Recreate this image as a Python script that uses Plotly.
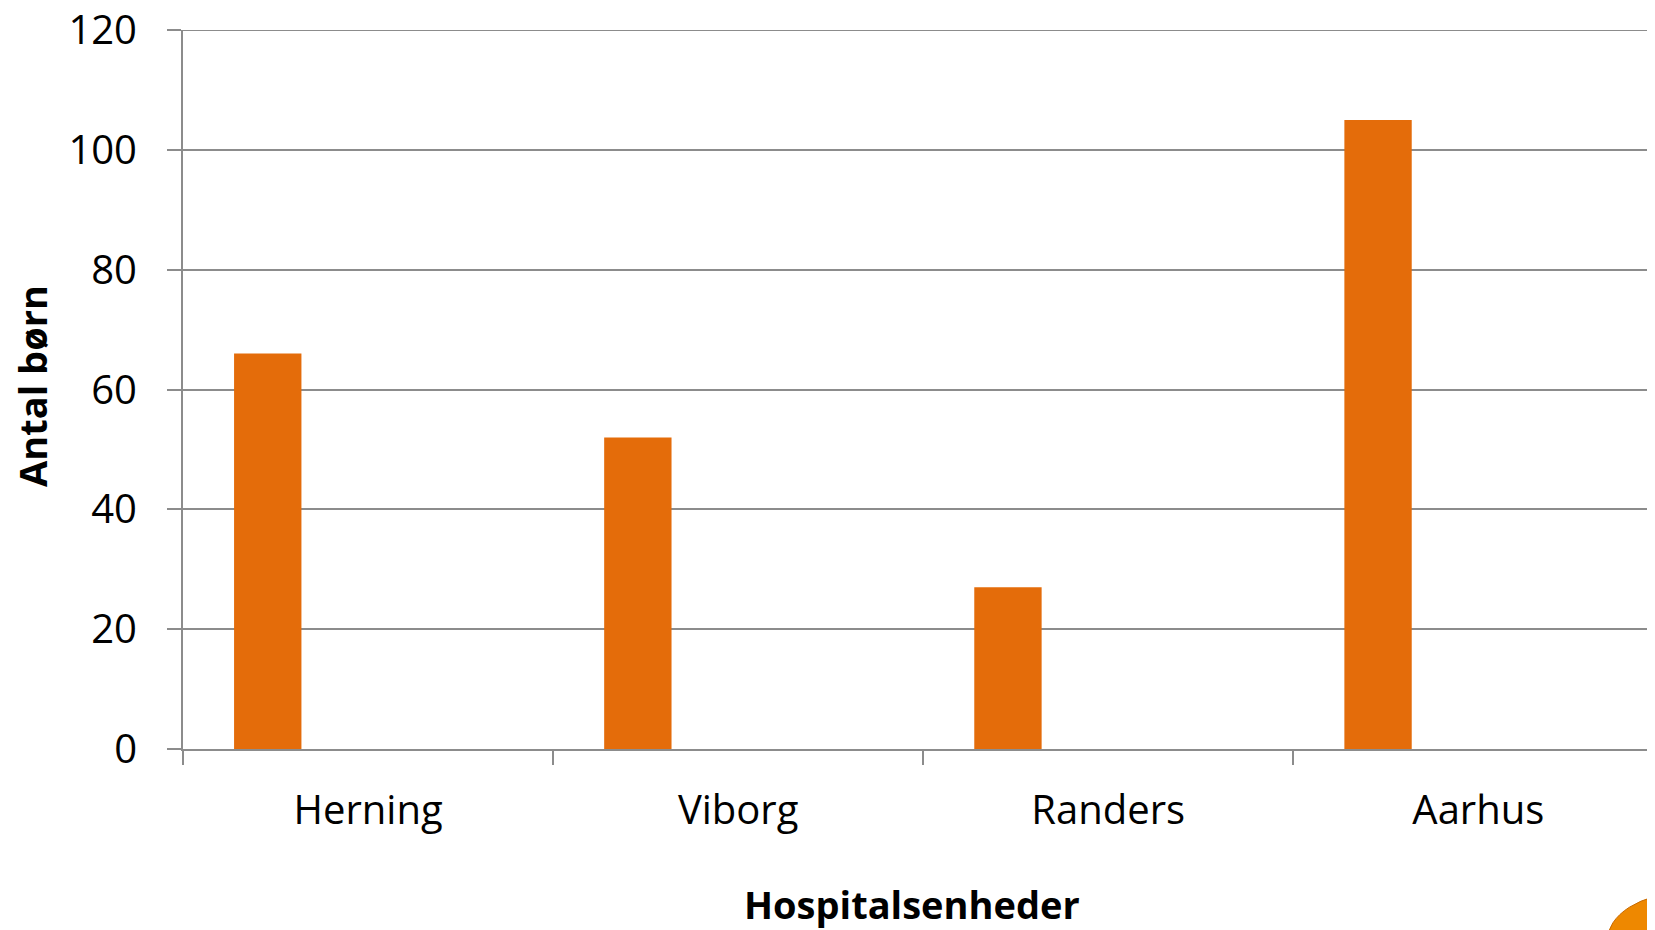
import plotly.graph_objects as go

categories = ["Herning", "Viborg", "Randers", "Aarhus"]
values = [66, 52, 27, 105]
y_ticks = [0, 20, 40, 60, 80, 100, 120]

FONT = "Open Sans"
OFF = 8  # default page body margin
GRID = "#8C8C8C"

# target page-pixel geometry of the plot area
PL, PT, PR, PB = 183, 30, 1655, 749
W, H = 1655 - OFF, 930 - OFF
PW, PH = PR - PL, PB - PT


def px(x):
    return (x - PL) / PW


def py(y):
    return (PB - y) / PH


fig = go.Figure()
fig.add_trace(go.Bar(
    x=categories, y=values,
    marker=dict(color="#E46C0A", line=dict(width=0)),
    offset=-0.362, width=0.182,
    hoverinfo="x+y",
))

fig.update_layout(
    width=W, height=H,
    margin=dict(l=PL - OFF, r=0, t=PT - OFF, b=H - (PT - OFF) - PH, pad=0, autoexpand=False),
    paper_bgcolor="white", plot_bgcolor="white",
    showlegend=False,
    font=dict(family=FONT, color="black"),
    xaxis=dict(
        type="category", range=[-0.5, -0.5 + PW / 370.1], automargin=False,
        showline=True, linecolor=GRID, linewidth=2,
        ticks="outside", ticklen=14, tickwidth=2, tickcolor=GRID,
        tickson="boundaries", showgrid=False,
        tickfont=dict(size=40, family=FONT), ticklabelstandoff=25,
    ),
    yaxis=dict(
        range=[0, 120], tickvals=y_ticks, ticktext=[str(v) for v in y_ticks],
        automargin=False,
        showline=True, linecolor=GRID, linewidth=2,
        ticks="outside", ticklen=14, tickwidth=2, tickcolor=GRID,
        showgrid=True, gridcolor=GRID, gridwidth=2, zeroline=False,
        tickfont=dict(size=40, family=FONT), ticklabelstandoff=22,
        ticklabeloverflow="allow",
    ),
    annotations=[
        dict(text="<b>Hospitalsenheder</b>", xref="paper", yref="paper",
             x=px(912), y=py(904), xanchor="center", yanchor="middle",
             showarrow=False, borderpad=0, font=dict(size=38, family=FONT)),
        dict(text="<b>Antal børn</b>", xref="paper", yref="paper",
             x=px(32), y=py(386), xanchor="center", yanchor="middle",
             textangle=-90, showarrow=False, borderpad=0, font=dict(size=38, family=FONT)),
    ],
    shapes=[
        dict(type="line", xref="paper", yref="y", x0=0, x1=1,
             y0=y_ticks[-1], y1=y_ticks[-1], line=dict(color=GRID, width=2), layer="below"),
        dict(type="circle", xref="paper", yref="paper",
             x0=px(1607), x1=px(1760), y0=py(990), y1=py(893),
             fillcolor="#EE8800", line=dict(color="#C86A00", width=1), layer="above"),
    ],
)

fig.write_html("out.html")
